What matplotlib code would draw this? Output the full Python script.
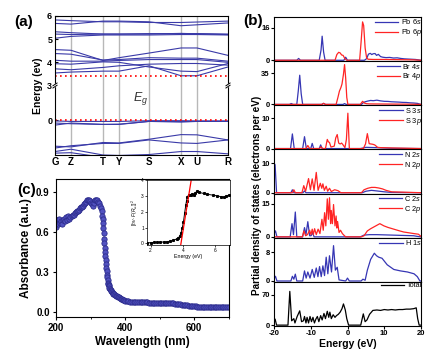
import numpy as np
import matplotlib
matplotlib.use('Agg')
import matplotlib.pyplot as plt

plt.rcParams['font.family'] = ['Liberation Sans', 'DejaVu Sans']
plt.rcParams['mathtext.fontset'] = 'custom'
plt.rcParams['mathtext.rm'] = 'Liberation Sans'
plt.rcParams['mathtext.it'] = 'Liberation Sans:italic'
plt.rcParams['mathtext.bf'] = 'Liberation Sans:bold'
plt.rcParams['axes.linewidth'] = 0.8

# ---------------- (a) band structure ----------------
kpt_labels = ['G', 'Z', 'T', 'Y', 'S', 'X', 'U', 'R']
kpt_pos = [0, 16, 48, 64, 94, 126, 142, 173]
cond_bands = [
    [3.54, 3.58, 3.62, 3.62, 3.85, 3.42, 3.42, 3.80],
    [3.72, 3.68, 3.78, 3.85, 3.92, 3.95, 3.95, 3.88],
    [3.94, 3.92, 4.02, 4.00, 3.80, 3.62, 3.60, 3.95],
    [4.09, 4.05, 4.05, 4.08, 4.12, 4.12, 4.12, 4.00],
    [4.38, 4.35, 4.10, 4.12, 4.20, 4.18, 4.18, 4.05],
    [4.55, 4.52, 4.08, 4.20, 4.40, 4.62, 4.62, 4.30],
    [5.04, 5.12, 5.18, 5.18, 5.18, 5.20, 5.20, 5.18],
    [5.22, 5.20, 5.22, 5.22, 5.22, 5.25, 5.23, 5.20],
    [5.32, 5.28, 5.22, 5.22, 5.24, 5.24, 5.24, 5.22],
    [5.68, 5.65, 5.78, 5.78, 5.75, 5.58, 5.62, 5.70],
    [5.83, 5.80, 5.75, 5.75, 5.72, 5.72, 5.74, 5.78],
    [5.98, 5.98, 6.10, 6.10, 6.10, 5.98, 5.98, 6.10],
]
val_bands = [
    [-0.03, -0.05, -0.05, -0.05, -0.02, -0.02, -0.03, -0.03],
    [-0.12, -0.15, -0.18, -0.18, -0.05, -0.08, -0.05, -0.05],
    [-0.21, -0.12, -0.18, -0.17, -0.05, -0.05, -0.05, -0.05],
    [-1.12, -1.15, -0.96, -0.98, -0.82, -0.62, -0.63, -0.85],
    [-1.20, -1.10, -1.00, -1.00, -0.85, -0.98, -1.00, -0.85],
    [-1.35, -1.25, -1.50, -1.52, -1.48, -1.35, -1.35, -1.45],
    [-1.42, -1.40, -1.60, -1.60, -1.60, -1.55, -1.55, -1.60],
]
vbm, cbm = 0.0, 3.4

# ---------------- (b) PDOS ----------------
e_pb_s = [-20, -13.8, -13.3, -12.8, -7.7, -7.2, -6.9, -6.5, -6.1, -1.0, -0.5, 0.0, 4.6, 5.2, 5.7, 6.2, 6.6, 7.0, 7.5, 7.9, 8.4, 9.0, 9.6, 10.5, 11.5, 12.5, 13.5, 14.5, 15.5, 16.5, 17.5, 18.5, 19.3, 20]
d_pb_s = [0, 0, 0.9, 0, 0, 5, 11.8, 4, 0, 0, 1.5, 0, 0, 0.8, 3.0, 3.4, 2.8, 3.2, 3.3, 2.4, 2.9, 1.8, 1.5, 1.3, 1.4, 1.1, 1.2, 0.9, 0.7, 0.6, 0.5, 0.4, 0.2, 0]
e_pb_p = [-20, -3.4, -2.9, -2.4, -2.0, -1.6, -1.2, -0.7, -0.2, 3.3, 3.7, 4.1, 4.4, 4.8, 5.2, 5.6, 7, 10, 14, 18, 20]
d_pb_p = [0, 0, 2.8, 3.9, 3.6, 2.6, 2.4, 0.8, 0, 0, 9, 18.8, 17, 6, 1.2, 0.5, 0.4, 0.4, 0.3, 0.2, 0]

e_br_s = [-20, -15.8, -15.3, -14.8, -13.8, -13.4, -13.0, -12.6, -12.2, -7.0, -6.5, -6.0, -1.2, -0.8, -0.4, 3.8, 4.3, 4.8, 5.5, 6.3, 7.0, 8.0, 9.0, 10, 11, 12, 13, 14, 15, 16, 17, 18, 19, 19.5, 20]
d_br_s = [0, 0, 1.0, 0, 0, 15, 33, 12, 0, 0, 1.2, 0, 0, 1.0, 0, 0, 2.0, 3.0, 3.8, 4.5, 4.2, 4.8, 4.0, 3.5, 3.4, 3.0, 2.8, 2.6, 2.3, 2.2, 1.8, 1.6, 1.2, 0.6, 0]
e_br_p = [-20, -7.0, -6.5, -6.0, -3.1, -2.6, -2.2, -1.8, -1.5, -1.1, -0.8, -0.5, -0.2, 0.1, 3.5, 4.1, 4.6, 5.2, 6, 8, 12, 16, 20]
d_br_p = [0, 0, 1.2, 0, 0, 8, 15, 19, 23, 34, 45, 30, 8, 0, 0, 3.5, 1.5, 0.8, 0.6, 0.5, 0.4, 0.3, 0]

e_s_s = [-20, -15.5, -15.0, -14.5, -12.2, -11.7, -11.2, -10.0, -9.6, -9.2, -7.7, -7.3, -6.9, -1, 3.5, 5, 8, 12, 20]
d_s_s = [0, 0, 4.8, 0, 0, 3.9, 0, 0, 1.7, 0, 0, 1.2, 0, 0, 0, 0.4, 0.3, 0.1, 0]
e_s_p = [-20, -11.3, -10.8, -10.3, -7.6, -7.2, -6.8, -6.0, -5.5, -5.2, -4.9, -4.5, -3.6, -3.2, -2.8, -2.4, -2.0, -1.6, -1.2, -0.7, -0.3, 0.1, 0.5, 4.3, 4.9, 5.4, 5.9, 6.4, 6.9, 7.4, 8.2, 9, 12, 20]
d_s_p = [0, 0, 1.0, 0, 0, 0.6, 0, 0, 3.0, 2.2, 2.0, 0.5, 0.8, 3.5, 4.6, 1.8, 1.5, 1.8, 1.2, 0.3, 3, 11.6, 0, 0, 1.5, 4.9, 1.6, 1.5, 1.4, 1.2, 0.4, 0.3, 0.2, 0]

e_n_s = [-20, -19.7, -19.3, -15.4, -15.0, -14.6, -12.1, -11.7, -11.3, 4.0, 5.0, 6.5, 8.0, 10.0, 12.0, 20]
d_n_s = [10, 9.5, 0, 0, 1.0, 0, 0, 0.6, 0, 0, 0.5, 0.8, 0.6, 0.3, 0.1, 0]
e_n_p = [-20, -15.0, -14.6, -14.2, -12.4, -11.9, -11.4, -10.6, -10.1, -9.6, -9.1, -8.5, -8.0, -7.4, -7.0, -6.7, -6.3, -5.8, -5.4, -4.9, -4.4, -3.5, -2.6, -1.8, 3.8, 4.5, 5.5, 6.5, 7.5, 8.5, 9.5, 10.5, 12, 20]
d_n_p = [0, 0, 1.0, 0, 0, 2.4, 0.5, 4.8, 1.0, 4.7, 0.8, 6.9, 0.8, 3.2, 1.5, 3.0, 0.8, 2.2, 0.5, 1.5, 0.4, 1.0, 0.7, 0, 0, 1.0, 1.5, 1.8, 1.8, 1.6, 1.3, 0.8, 0.3, 0]

e_c_s = [-20, -19.6, -19.2, -15.6, -15.1, -14.7, -14.2, -13.8, -12.2, -11.7, -11.3, -10.8, -10.3, -9.9, -9.5, -9.1, -2, 3.5, 4.5, 6, 8, 10, 12, 14, 16, 18, 19, 20]
d_c_s = [1.5, 2.7, 0, 0, 6.0, 1.0, 11.3, 0, 0, 4.2, 1.0, 6.9, 0.5, 0.5, 2.0, 0, 0, 0, 0.8, 1.0, 1.0, 0.9, 0.8, 0.7, 0.6, 0.5, 0.2, 0]
e_c_p = [-20, -12.3, -11.85, -11.4, -10.9, -10.3, -9.95, -9.6, -9.3, -8.95, -8.5, -8.0, -7.5, -6.96, -6.6, -6.23, -5.9, -5.5, -5.2, -4.9, -4.6, -4.42, -4.1, -3.8, -3.4, -3.1, -2.9, -2.7, -2.3, -1.9, -1.4, -1.0, -0.5, 3.8, 4.5, 5.4, 6.3, 7.6, 8.8, 9.9, 11, 12.6, 14, 15.3, 16.5, 18, 19.3, 20]
d_c_p = [0, 0, 2.7, 0.5, 1.0, 3.0, 1.0, 3.5, 1.0, 3.7, 1.0, 3.5, 1.5, 8.0, 3.0, 11.0, 5.0, 17.3, 8.0, 17.8, 6.0, 12.0, 6.0, 14.7, 5.0, 9.5, 4.0, 7.0, 2.0, 3.0, 1.5, 0.8, 0, 0, 0.5, 2.7, 3.7, 4.9, 6.0, 5.0, 4.3, 3.5, 2.8, 2.2, 1.9, 1.5, 1.2, 0.2]

e_h_s = [-20, -19.6, -19.2, -15.4, -15.0, -14.6, -14.2, -13.8, -12.2, -11.7, -11.25, -10.8, -10.2, -9.6, -9.05, -8.5, -8.05, -7.6, -7.15, -6.7, -6.25, -5.8, -5.35, -4.9, -4.35, -3.8, -3.3, -2.8, -2.3, -0.5, 0.0, 0.5, 3.7, 4.2, 4.8, 5.4, 6.3, 7.3, 7.9, 8.5, 9.4, 10.8, 12.6, 14.4, 16.3, 18.1, 19.0, 19.7, 20]
d_h_s = [0.5, 1.3, 0, 0, 1.3, 0.5, 1.9, 0, 0, 2.8, 0.8, 2.5, 0.8, 3.2, 1.0, 3.6, 1.2, 4.0, 1.2, 4.2, 1.5, 6.6, 2.0, 7.0, 2.5, 9.8, 3.0, 3.8, 0.3, 0, 0.8, 0, 0, 0.5, 0.2, 3.0, 6.0, 7.7, 7.0, 6.6, 6.3, 4.5, 3.2, 2.8, 2.5, 2.0, 1.2, 0, 0]

e_tot = [-20, -19.7, -19.3, -16.2, -15.7, -15.2, -14.6, -14.3, -13.7, -13.0, -12.5, -12.0, -11.7, -11.3, -11.0, -10.6, -10.2, -9.8, -9.4, -9.0, -8.6, -8.2, -7.8, -7.3, -6.9, -6.4, -6.0, -5.5, -5.1, -4.8, -4.4, -3.9, -3.4, -3.0, -2.5, -2.0, -1.5, -1.1, -0.6, -0.2, 0.3, 3.6, 4.3, 4.8, 5.3, 6.0, 6.9, 8, 9, 10, 11, 12, 13, 14, 15, 16, 17, 18, 18.7, 19.1, 19.5, 20]
d_tot = [10, 14, 0, 0, 78, 10, 15, 5, 20, 33, 8, 10, 20, 5, 18, 5, 20, 8, 18, 5, 14, 20, 8, 22, 12, 27, 15, 32, 18, 30, 15, 24, 18, 22, 25, 30, 38, 49, 35, 15, 0, 0, 26, 8, 12, 25, 34, 35, 34, 36, 35, 36, 35, 36, 36, 37, 37, 38, 40, 15, 0, 0]

# ---------------- (c) absorbance ----------------
wl = [200, 203, 206, 209, 212, 215, 218, 221, 224, 227, 230, 233, 236, 239, 242, 245, 248, 251, 254, 257,
      260, 263, 266, 269, 272, 275, 278, 281, 284, 287, 290, 293, 296, 299, 302, 305, 308, 311, 314, 317,
      320, 323, 326, 328, 330, 332, 334, 335, 336, 337, 338, 339, 340, 341, 342, 343, 344, 345, 346, 347,
      348, 349, 350, 351, 352, 353, 354, 355, 356, 358, 360, 362, 364, 366, 368, 370, 373, 376, 379, 382,
      385, 388, 391, 394, 397, 400, 405, 410, 415, 420, 425, 430, 435, 440, 445, 450, 455, 460, 465, 470,
      475, 480, 485, 490, 495, 500, 505, 510, 515, 520, 525, 530, 535, 540, 545, 550, 555, 560, 565, 570,
      575, 580, 585, 590, 595, 600, 605, 610, 615, 620, 625, 630, 635, 640, 645, 650, 655, 660, 665, 670,
      675, 680, 685, 690, 695, 700]
absorb = [0.64, 0.69, 0.66, 0.70, 0.67, 0.68, 0.66, 0.69, 0.70, 0.68, 0.71, 0.69, 0.72, 0.70, 0.71, 0.72, 0.73, 0.73, 0.74, 0.75,
          0.76, 0.76, 0.77, 0.78, 0.79, 0.79, 0.80, 0.81, 0.82, 0.83, 0.84, 0.845, 0.84, 0.835, 0.82, 0.81, 0.80, 0.82, 0.84, 0.845,
          0.84, 0.83, 0.82, 0.80, 0.78, 0.76, 0.72, 0.70, 0.67, 0.63, 0.59, 0.55, 0.52, 0.48, 0.45, 0.42, 0.39, 0.36, 0.33, 0.31,
          0.28, 0.26, 0.24, 0.22, 0.21, 0.20, 0.19, 0.18, 0.17, 0.165, 0.155, 0.15, 0.14, 0.135, 0.13, 0.128, 0.122, 0.118, 0.113, 0.108,
          0.104, 0.099, 0.095, 0.091, 0.087, 0.084, 0.080, 0.078, 0.076, 0.075, 0.074, 0.073, 0.073, 0.072, 0.072, 0.071, 0.071, 0.070, 0.070, 0.069,
          0.069, 0.068, 0.068, 0.067, 0.067, 0.066, 0.066, 0.065, 0.065, 0.064, 0.064, 0.063, 0.063, 0.062, 0.061, 0.060, 0.058, 0.056, 0.054, 0.052,
          0.050, 0.048, 0.046, 0.044, 0.042, 0.041, 0.040, 0.038, 0.037, 0.036, 0.036, 0.035, 0.035, 0.034, 0.034, 0.034, 0.034, 0.033, 0.033, 0.033,
          0.033, 0.033, 0.032, 0.032, 0.032, 0.032]

inset_e = [1.8, 2.0, 2.2, 2.4, 2.6, 2.8, 3.0, 3.2, 3.4, 3.6, 3.7, 3.8, 3.87, 3.95, 4.03, 4.1, 4.17, 4.22, 4.27, 4.35, 4.47, 4.57, 4.67, 4.77, 4.87, 5.0, 5.27, 5.5, 5.87, 6.1, 6.37, 6.55, 6.67, 6.85]
inset_v = [0.03, 0.05, 0.06, 0.07, 0.08, 0.09, 0.10, 0.14, 0.19, 0.28, 0.34, 0.45, 0.63, 0.95, 1.37, 1.9, 2.4, 2.7, 2.94, 3.05, 3.08, 3.12, 3.08, 3.2, 3.29, 3.22, 3.15, 3.1, 3.04, 3.0, 2.94, 2.92, 3.0, 3.04]
fit_e = [3.86, 4.5]
fit_v = [-0.1, 3.95]

# ---------------- figure ----------------
W, H = 437, 353
fig = plt.figure(figsize=(W / 100, H / 100), dpi=100)


def fax(l, t, r, b):
    return fig.add_axes([l / W, 1 - b / H, (r - l) / W, (b - t) / H])


BAND = '#3a3aa8'
BLUE = '#3636b4'
RED = '#ff2424'

# (a)
axa = fax(55, 16, 228, 155)


def fwd(y):
    y = np.asarray(y, float)
    return np.where(y < 1.5, y, np.where(y > 3.0, y - 1.5, 1.5))


def inv(z):
    z = np.asarray(z, float)
    return np.where(z < 1.5, z, z + 1.5)


axa.set_yscale('function', functions=(fwd, inv))
for k in kpt_pos[1:-1]:
    axa.axvline(k, color='#b8b8b8', lw=1.0, zorder=0)
for b in cond_bands + val_bands:
    axa.plot(kpt_pos, b, color=BAND, lw=0.8)
for e in (vbm, cbm):
    axa.axhline(e, color='red', ls=(0, (1, 2)), lw=1.2)
axa.set_xlim(kpt_pos[0], kpt_pos[-1])
axa.set_ylim(-1.5, 6.0)
axa.set_xticks(kpt_pos)
axa.set_xticklabels(kpt_labels, fontsize=7, fontweight='bold')
axa.tick_params(axis='x', length=0, pad=1.5)
axa.set_yticks([0, 3, 4, 5, 6])
axa.set_yticklabels(['0', '3', '4', '5', '6'], fontsize=6.5, fontweight='bold')
axa.minorticks_off()
axa.tick_params(axis='y', direction='in', length=2.5, pad=2)
axa.set_ylabel('Energy (ev)', fontsize=7.5, fontweight='bold', labelpad=3)
axa.text(78, 0.85, r'$E_g$', fontsize=9, color='#333333')
for x in (0, 1):
    axa.plot([x - 0.012, x + 0.012], [0.5, 0.5], transform=axa.transAxes, color='white', lw=2.5, clip_on=False, zorder=5)
    for dy in (-0.008, 0.008):
        axa.plot([x - 0.012, x + 0.012], [0.49 + dy, 0.51 + dy], transform=axa.transAxes,
                 color='black', lw=0.7, clip_on=False, zorder=6)

# (b)
dos_panels = [
    ([(e_pb_s, d_pb_s, BLUE, r'Pb 6$\mathit{s}$'), (e_pb_p, d_pb_p, RED, r'Pb 6$\mathit{p}$')], 21.2, 16),
    ([(e_br_s, d_br_s, BLUE, r'Br 4$\mathit{s}$'), (e_br_p, d_br_p, RED, r'Br 4$\mathit{p}$')], 48.9, 35),
    ([(e_s_s, d_s_s, BLUE, r'S 3$\mathit{s}$'), (e_s_p, d_s_p, RED, r'S 3$\mathit{p}$')], 14.2, 10),
    ([(e_n_s, d_n_s, BLUE, r'N 2$\mathit{s}$'), (e_n_p, d_n_p, RED, r'N 2$\mathit{p}$')], 14.7, 10),
    ([(e_c_s, d_c_s, BLUE, r'C 2$\mathit{s}$'), (e_c_p, d_c_p, RED, r'C 2$\mathit{p}$')], 19.7, 15),
    ([(e_h_s, d_h_s, BLUE, r'H 1$\mathit{s}$')], 12.0, 8),
    ([(e_tot, d_tot, 'black', 'Total')], 100, 70),
]
top, bot = 17, 326
hh = (bot - top) / len(dos_panels)
for i, (series, ymax, ytick) in enumerate(dos_panels):
    ax = fax(274, top + i * hh, 421, top + (i + 1) * hh)
    for e, d, c, lab in series:
        ax.plot(e, d, color=c, lw=0.9, label=lab)
    ax.set_xlim(-20, 20)
    ax.set_ylim(-0.02 * ymax, ymax)
    ax.set_yticks([0, ytick])
    ax.set_yticklabels(['0', str(ytick)], fontsize=5.5, fontweight='bold')
    ax.tick_params(axis='y', direction='out', length=2, pad=1)
    leg = ax.legend(loc='upper right', bbox_to_anchor=(1.005, 0.99), frameon=False, fontsize=5.3,
                    handlelength=3.2, handletextpad=0.3, labelspacing=0.12, borderpad=0.0, borderaxespad=0)
    if i < len(dos_panels) - 1:
        ax.set_xticks([])
    else:
        ax.set_xticks([-20, -10, 0, 10, 20])
        ax.set_xticklabels(['-20', '-10', '0', '10', '20'], fontsize=5.5, fontweight='bold')
        ax.tick_params(axis='x', direction='out', length=2, pad=1)
        ax.set_xlabel('Energy (eV)', fontsize=7.5, fontweight='bold', labelpad=1)
fig.text(257 / W, 1 - 195 / H, 'Partial density of states (electrons per eV)', rotation=90,
         ha='center', va='center', fontsize=7.2, fontweight='bold')

# (c)
axc = fax(56, 179, 228.5, 317)
axc.plot(wl, absorb, color='#777777', lw=0.5, marker='o', ms=3.8, mfc='#5252c0', mec='#2c2c8c', mew=0.6)
axc.set_xlim(200, 700)
axc.set_ylim(-0.04, 1.0)
axc.set_xticks([200, 400, 600])
axc.set_xticks([300, 500, 700], minor=True)
axc.set_xticklabels(['200', '400', '600'], fontsize=7, fontweight='bold')
axc.set_yticks([0.0, 0.3, 0.6, 0.9])
axc.set_yticklabels(['0.0', '0.3', '0.6', '0.9'], fontsize=7, fontweight='bold')
axc.tick_params(direction='out', length=2.5, pad=2)
axc.tick_params(which='minor', direction='out', length=1.5)
axc.set_xlabel('Wavelength (nm)', fontsize=8.5, fontweight='bold', labelpad=2)
axc.set_ylabel('Absorbance (a.u.)', fontsize=8.5, fontweight='bold', labelpad=3)

axi = fax(147, 180, 230, 245)
axi.plot(inset_e, inset_v, color='black', lw=0.7, marker='s', ms=1.2)
axi.plot(fit_e, fit_v, color='red', lw=0.9)
axi.set_xlim(1.78, 6.9)
axi.set_ylim(-0.1, 4.0)
axi.set_xticks([2, 4, 6])
axi.set_xticklabels(['2', '4', '6'], fontsize=3.5)
axi.set_yticks([0, 1, 2, 3, 4])
axi.set_yticklabels(['0', '1', '2', '3', '4'], fontsize=3.5)
axi.tick_params(direction='out', length=1.2, pad=1, width=0.5)
axi.set_xlabel('Energy (eV)', fontsize=3.8, labelpad=0.5)
axi.set_ylabel(r'$[h\nu \cdot F(R_\infty)]^2$', fontsize=3.5, labelpad=1)
for s in axi.spines.values():
    s.set_linewidth(0.5)

# panel labels
fig.text(24 / W, 1 - 22 / H, '(a)', ha='center', va='center', fontsize=11, fontweight='bold')
fig.text(253 / W, 1 - 21 / H, '(b)', ha='center', va='center', fontsize=11, fontweight='bold')
fig.text(27 / W, 1 - 190 / H, '(c)', ha='center', va='center', fontsize=11, fontweight='bold')

fig.savefig('out.png', dpi=100)
